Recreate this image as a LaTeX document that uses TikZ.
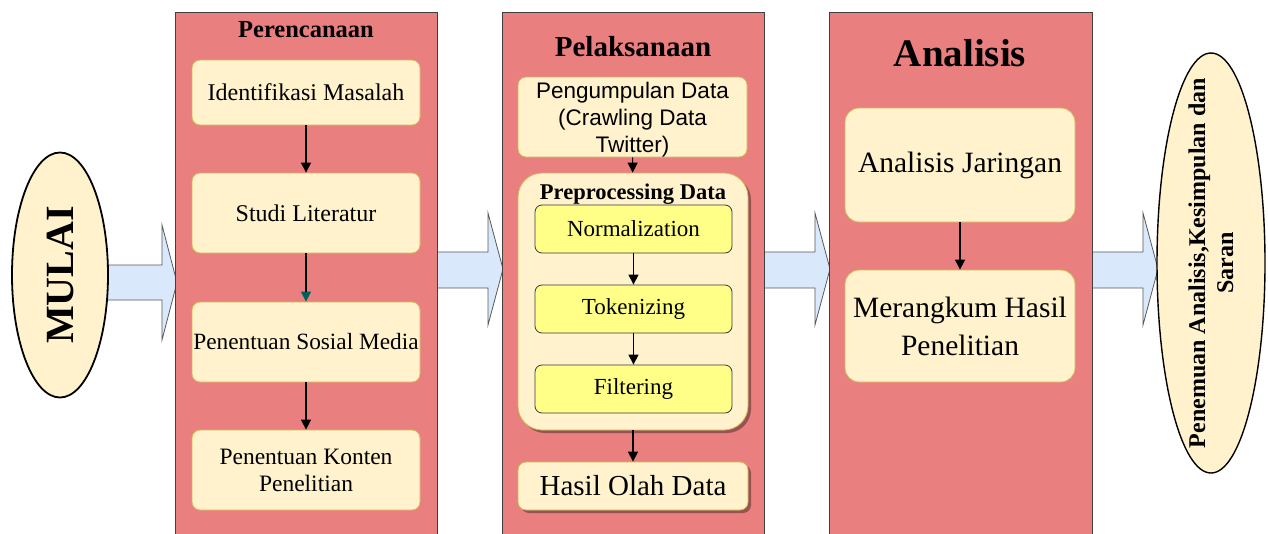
\documentclass[tikz,border=0pt]{standalone}
\usepackage{fontspec}
\setmainfont{Liberation Serif}
\newfontfamily\sansf{Liberation Sans}
\usetikzlibrary{shapes.geometric,arrows.meta,shadows}
\definecolor{panelred}{RGB}{234,127,127}
\definecolor{cream}{RGB}{255,242,204}
\definecolor{gold}{RGB}{214,182,86}
\definecolor{yel}{RGB}{255,255,136}
\definecolor{darkb}{RGB}{54,57,61}
\definecolor{lblue}{RGB}{218,232,252}
\definecolor{headteal}{RGB}{0,96,90}
\tikzset{
  panel/.style={draw=black!75, line width=0.8pt, fill=panelred, anchor=north west, minimum width=262, minimum height=530, inner sep=0},
  ptitle/.style={font=\bfseries\fontsize{#1}{#1}\selectfont, inner sep=0},
  sbox/.style={draw=gold, line width=0.8pt, fill=cream, rounded corners=8pt, align=center, inner sep=0},
  ybox/.style={draw=darkb, line width=0.8pt, fill=yel, rounded corners=7pt, align=center, inner sep=0, minimum width=197, minimum height=48, font=\fontsize{23}{26}\selectfont},
  shad/.style={drop shadow={shadow xshift=3pt, shadow yshift=-3pt, opacity=0.35, fill=black}},
  flow/.style={draw=black, line width=1.2pt, -{Triangle[length=10pt,width=10pt]}},
  oval/.style={ellipse, draw=black, line width=1.8pt, fill=cream, inner sep=0},
  ovaltext/.style={rotate=90, align=center, inner sep=0},
  blockarrow/.style={draw=black!65, line width=0.8pt, fill=lblue, line join=miter},
}
\begin{document}
\begin{tikzpicture}[x=1pt,y=-1pt]
\useasboundingbox (0,0) rectangle (1268,533);
\clip (0,0) rectangle (1268,533);
\fill[white] (0,0) rectangle (1268,533);

% block arrows (drawn first, beneath panels and ovals)
\draw[blockarrow] (95,265) -- (162,265) -- (162,225) -- (177,282.5) -- (162,340) -- (162,300) -- (95,300) -- cycle;
\draw[blockarrow] (430,252) -- (488,252) -- (488,213) -- (503,269) -- (488,325) -- (488,288) -- (430,288) -- cycle;
\draw[blockarrow] (757,252) -- (815,252) -- (815,213) -- (830,269) -- (815,325) -- (815,288) -- (757,288) -- cycle;
\draw[blockarrow] (1085,252) -- (1143,252) -- (1143,213) -- (1158,269) -- (1143,325) -- (1143,288) -- (1085,288) -- cycle;

% panels
\node[panel] (panA) at (175,12) {};
\node[panel] (panB) at (502,12) {};
\node[panel, minimum width=263] (panC) at (829,12) {};

% start / end ovals
\node[oval, minimum width=96, minimum height=245] (mulai) at (60,275) {};
\node[ovaltext, font=\bfseries\fontsize{40}{40}\selectfont] (mulaiT) at (mulai.center) {MULAI};
\node[oval, minimum width=108, minimum height=420, line width=1.4pt] (selesai) at (1211,263) {};
\node[ovaltext, font=\bfseries\fontsize{24}{28}\selectfont] (selesaiT) at (selesai.center) {Penemuan Analisis,Kesimpulan dan\\Saran};

% Panel A: Perencanaan
\node[ptitle=24.5] (tA) at (306,30) {Perencanaan};
\node[sbox, minimum width=228, minimum height=65, font=\fontsize{24}{27}\selectfont] (a1) at (306,92.5) {Identifikasi Masalah};
\node[sbox, minimum width=228, minimum height=80, font=\fontsize{24}{27}\selectfont] (a2) at (306,213) {Studi Literatur};
\node[sbox, minimum width=228, minimum height=80, font=\fontsize{23.3}{27}\selectfont] (a3) at (306,342) {Penentuan Sosial Media};
\node[sbox, minimum width=228, minimum height=80, font=\fontsize{23.5}{27}\selectfont] (a4) at (306,470) {Penentuan Konten\\Penelitian};
\draw[flow] (a1) -- (a2);
\draw[draw=black, line width=1.2pt, -{Triangle[length=10pt,width=10pt,color=headteal]}] (a2) -- (a3);
\draw[flow] (a3) -- (a4);

% Panel B: Pelaksanaan
\node[ptitle=29] (tB) at (633,47) {Pelaksanaan};
\node[sbox, minimum width=229, minimum height=80] (b1) at (632.5,117) {};
\node[align=center, inner sep=0, font=\sansf\fontsize{22.5}{27}\selectfont] (b1T) at (632.5,119.5) {Pengumpulan Data\\(Crawling Data\\Twitter)};
\node[sbox, shad, rounded corners=24pt, minimum width=230, minimum height=257] (pre) at (633,301.5) {};
\node[ptitle=22.5] (preT) at (633,194) {Preprocessing Data};
\node[ybox] (n1) at (633.5,229) {Normalization};
\node[ybox] (n2) at (633.5,309) {Tokenizing};
\node[ybox] (n3) at (633.5,389) {Filtering};
\node[sbox, shad, minimum width=230, minimum height=48, font=\fontsize{29}{33}\selectfont] (hasil) at (633,486) {Hasil Olah Data};
\draw[flow] (b1) -- (pre);
\draw[flow] (n1) -- (n2);
\draw[flow] (n2) -- (n3);
\draw[flow] (pre) -- (hasil);

% Panel C: Analisis
\node[ptitle=39] (tC) at (960,53) {Analisis};
\node[sbox, rounded corners=14pt, minimum width=230, minimum height=114, font=\fontsize{29.5}{38}\selectfont] (c1) at (960,165) {Analisis Jaringan};
\node[sbox, rounded corners=14pt, minimum width=230, minimum height=112, font=\fontsize{29.5}{38}\selectfont] (c2) at (960,326) {Merangkum Hasil\\Penelitian};
\draw[flow] (c1) -- (c2);
\end{tikzpicture}
\end{document}
